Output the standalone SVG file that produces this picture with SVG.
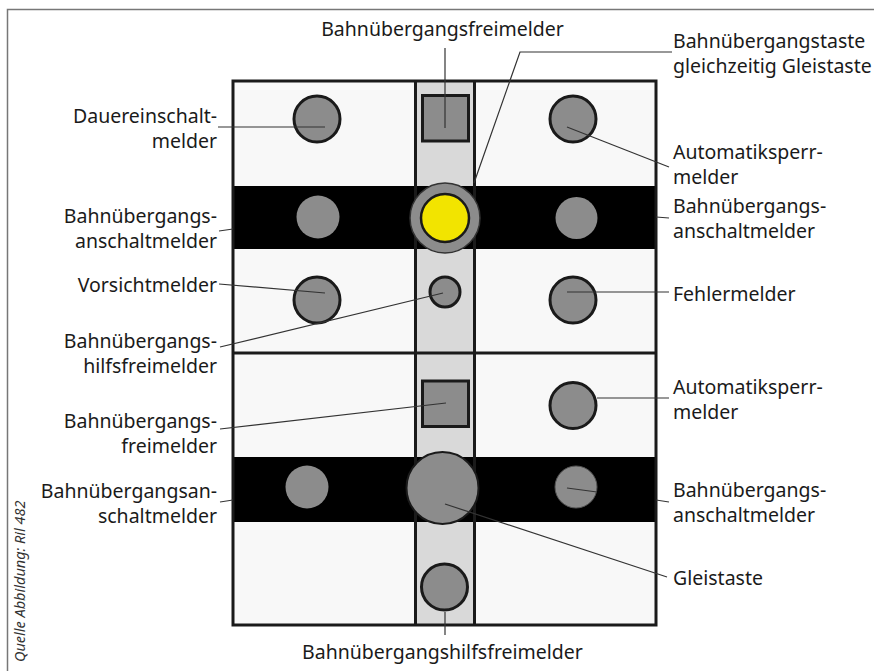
<svg xmlns="http://www.w3.org/2000/svg" width="874" height="671" viewBox="0 0 874 671">
<style>
.lbl{font-family:"Noto Sans","DejaVu Sans",sans-serif;font-size:19.5px;fill:#1a1a1a}
.r{text-anchor:end}
.m{text-anchor:middle}
.ld{stroke:#333;stroke-width:1.2;fill:none}
.ind{fill:#8c8c8c;stroke:#1a1a1a;stroke-width:3}
.flat{fill:#8c8c8c;stroke:none}
.src{font-family:"Noto Sans","DejaVu Sans",sans-serif;font-size:14.5px;font-style:italic;fill:#333}
</style>
<rect width="874" height="671" fill="#ffffff"/>
<path d="M7.5,671 V9.5 H874" fill="none" stroke="#777" stroke-width="1.5"/>
<text class="src" transform="translate(25,662) rotate(-90)">Quelle Abbildung: Ril 482</text>

<g id="panel">
<rect x="233" y="81" width="423" height="544" fill="#f8f8f8"/>
<rect x="415" y="81" width="60" height="544" fill="#d9d9d9"/>
<rect x="233" y="186" width="423" height="63" fill="#000"/>
<rect x="233" y="457" width="423" height="65" fill="#000"/>
<g stroke="#1a1a1a" stroke-width="3" fill="none">
<rect x="233" y="81" width="423" height="544"/>
<line x1="415.5" y1="81" x2="415.5" y2="625"/>
<line x1="474.5" y1="81" x2="474.5" y2="625"/>
<line x1="233" y1="353" x2="656" y2="353"/>
</g>
</g>

<g id="dauereinschaltmelder"><circle class="ind" cx="317" cy="119" r="23"/></g>
<g id="automatiksperrmelder-1"><circle class="ind" cx="573" cy="119" r="23"/></g>
<g id="bue-freimelder-1"><rect x="422.5" y="95.5" width="46" height="45.5" fill="#8c8c8c" stroke="#1a1a1a" stroke-width="3"/></g>
<g id="anschaltmelder-1l"><circle class="flat" cx="318" cy="217" r="21.5"/></g>
<g id="anschaltmelder-1r"><circle class="flat" cx="576.5" cy="218" r="21"/></g>
<g id="bue-taste">
<circle cx="445" cy="218" r="35" fill="#8c8c8c" stroke="#333" stroke-width="1.5"/>
<circle cx="445" cy="218" r="24" fill="#f2e400" stroke="#1a1a1a" stroke-width="2.5"/>
</g>
<g id="vorsichtmelder"><circle class="ind" cx="317" cy="300" r="23"/></g>
<g id="fehlermelder"><circle class="ind" cx="573" cy="300" r="23"/></g>
<g id="hilfsfreimelder-1"><circle class="ind" cx="445" cy="292" r="15" stroke-width="2.5"/></g>

<g id="bue-freimelder-2"><rect x="422.5" y="381" width="46" height="45.5" fill="#8c8c8c" stroke="#1a1a1a" stroke-width="3"/></g>
<g id="automatiksperrmelder-2"><circle class="ind" cx="573" cy="405.5" r="23"/></g>
<g id="anschaltmelder-2l"><circle class="flat" cx="307" cy="487" r="21.5"/></g>
<g id="anschaltmelder-2r"><circle cx="576" cy="487" r="21" fill="#8c8c8c" stroke="#555" stroke-width="1"/></g>
<g id="gleistaste"><circle cx="442.5" cy="488" r="36" fill="#8c8c8c" stroke="#1a1a1a" stroke-width="2"/></g>
<g id="hilfsfreimelder-2"><circle class="ind" cx="444.5" cy="587" r="23"/></g>

<g id="connectors">
<line class="ld" x1="445" y1="48" x2="445" y2="128"/>
<polyline class="ld" points="672,52 520,52 474,183"/>
<line class="ld" x1="218" y1="127" x2="325" y2="127"/>
<line class="ld" x1="219" y1="231" x2="233" y2="229"/>
<line class="ld" x1="219" y1="284" x2="325" y2="293"/>
<line class="ld" x1="220" y1="347" x2="443" y2="293"/>
<line class="ld" x1="220" y1="429" x2="446" y2="403"/>
<line class="ld" x1="220" y1="502" x2="233" y2="500"/>
<line class="ld" x1="567" y1="127" x2="669" y2="167"/>
<line class="ld" x1="656" y1="217" x2="669" y2="218"/>
<line class="ld" x1="567" y1="292" x2="669" y2="292"/>
<line class="ld" x1="597" y1="398" x2="669" y2="398"/>
<line class="ld" x1="567" y1="488" x2="597" y2="492"/>
<line class="ld" x1="656" y1="500" x2="669" y2="502"/>
<line class="ld" x1="445" y1="504" x2="667" y2="577"/>
<line class="ld" x1="445" y1="612" x2="445" y2="635"/>
</g>

<g id="labels">
<text class="lbl m" x="442.5" y="36">Bahnübergangsfreimelder</text>
<text class="lbl" x="673" y="48">Bahnübergangstaste</text>
<text class="lbl" x="673" y="73">gleichzeitig Gleistaste</text>
<text class="lbl r" x="217" y="123">Dauereinschalt-</text>
<text class="lbl r" x="217" y="148">melder</text>
<text class="lbl r" x="217" y="223">Bahnübergangs-</text>
<text class="lbl r" x="217" y="248">anschaltmelder</text>
<text class="lbl r" x="217" y="292">Vorsichtmelder</text>
<text class="lbl r" x="217" y="348">Bahnübergangs-</text>
<text class="lbl r" x="217" y="373">hilfsfreimelder</text>
<text class="lbl r" x="217" y="428">Bahnübergangs-</text>
<text class="lbl r" x="217" y="453">freimelder</text>
<text class="lbl r" x="217" y="498">Bahnübergangsan-</text>
<text class="lbl r" x="217" y="523">schaltmelder</text>
<text class="lbl" x="673" y="159">Automatiksperr-</text>
<text class="lbl" x="673" y="184">melder</text>
<text class="lbl" x="673" y="213">Bahnübergangs-</text>
<text class="lbl" x="673" y="238">anschaltmelder</text>
<text class="lbl" x="673" y="301">Fehlermelder</text>
<text class="lbl" x="673" y="394">Automatiksperr-</text>
<text class="lbl" x="673" y="419">melder</text>
<text class="lbl" x="673" y="497">Bahnübergangs-</text>
<text class="lbl" x="673" y="522">anschaltmelder</text>
<text class="lbl" x="673" y="585">Gleistaste</text>
<text class="lbl m" x="442.5" y="659">Bahnübergangshilfsfreimelder</text>
</g>
</svg>
